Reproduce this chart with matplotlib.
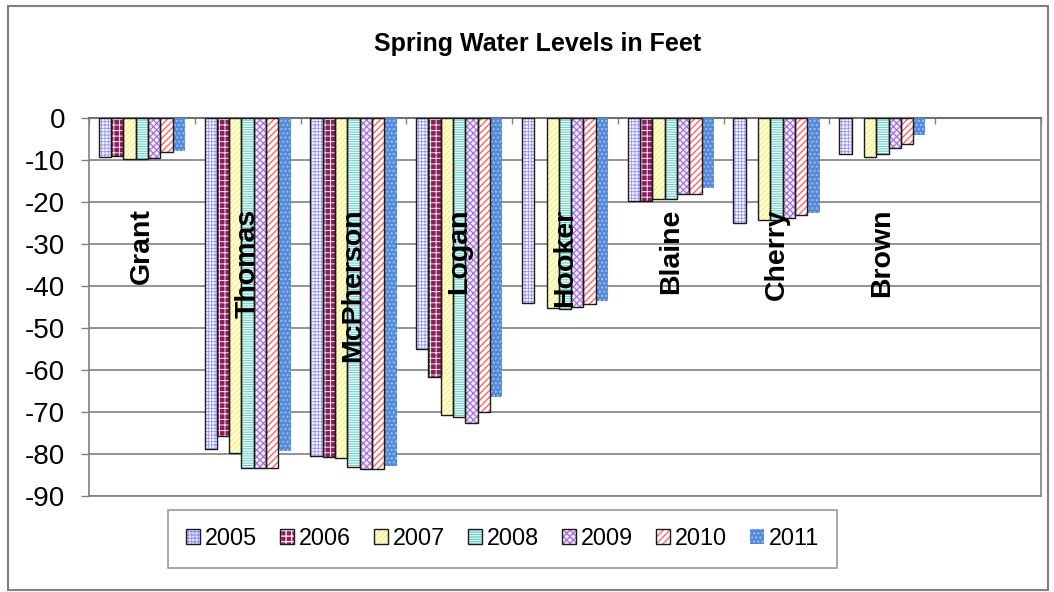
import numpy as np
import matplotlib
matplotlib.use("Agg")
import matplotlib.pyplot as plt
from matplotlib.patches import Patch, Rectangle
from matplotlib.legend_handler import HandlerTuple

plt.rcParams['font.family'] = ['Liberation Sans', 'DejaVu Sans']
plt.rcParams['axes.unicode_minus'] = False

# data (feet); nan = no bar
counties = ["Grant", "Thomas", "McPherson", "Logan", "Hooker", "Blaine", "Cherry", "Brown", ""]
years = ["2005", "2006", "2007", "2008", "2009", "2010", "2011"]
nan = np.nan
y2005 = [-9.3, -78.7, -80.5, -54.9, -44.0, -19.7, -25.0, -8.5, nan]
y2006 = [-9.0, -75.7, -80.7, -61.6, nan, -19.7, nan, nan, nan]
y2007 = [-9.7, -79.7, -80.9, -70.8, -45.2, -19.2, -24.3, -9.2, nan]
y2008 = [-9.7, -83.3, -83.1, -71.1, -45.4, -19.3, -24.4, -8.5, nan]
y2009 = [-9.6, -83.3, -83.5, -72.6, -45.0, -18.1, -23.9, -7.1, nan]
y2010 = [-8.2, -83.3, -83.5, -70.0, -44.4, -18.2, -23.0, -6.2, nan]
y2011 = [-7.8, -79.3, -82.9, -66.5, -43.5, -16.7, -22.6, -4.0, nan]
series = [y2005, y2006, y2007, y2008, y2009, y2010, y2011]

# (face, hatch colour, hatch, hatch lw, outline)
styles = [
    ("white", "#9a9aff", "+++++", 0.7, True),
    ("#8b1f5c", "#f3e6ee", "+++", 0.7, True),
    ("#ffffd0", "#f2ec8c", "//////", 0.8, True),
    ("#f0ffff", "#6fd0c8", "-------", 0.8, True),
    ("#f4e8ff", "#a678d6", "xxxxx", 0.9, True),
    ("white", "#ff6f6f", "/////", 1.1, True),
    ("#5389d8", "#9dbef0", "....", 1.0, False),
]

fig = plt.figure(figsize=(10.54, 5.92), dpi=100)
ax = fig.add_axes([0.0844, 0.1622, 0.9033, 0.6385])

x = np.arange(len(counties))
w = 0.1164
grey = "#808080"

handles = []
for j, (vals, st) in enumerate(zip(series, styles)):
    face, hcol, hatch, hlw, outline = st
    pos = x + (j - 3) * w
    with plt.rc_context({'hatch.linewidth': hlw}):
        bars = ax.bar(pos, vals, w, color=face, edgecolor=hcol, linewidth=0,
                      hatch=hatch, zorder=3)
        for b in bars:
            if hasattr(b, "set_hatch_linewidth"):
                b.set_hatch_linewidth(hlw)
        hp = Patch(facecolor=face, edgecolor=hcol, linewidth=0, hatch=hatch)
        if hasattr(hp, "set_hatch_linewidth"):
            hp.set_hatch_linewidth(hlw)
    if outline:
        ax.bar(pos, vals, w, fill=False, edgecolor="#1a1a1a", linewidth=1.0, zorder=4)
        handles.append((hp, Patch(fill=False, edgecolor="#1a1a1a", linewidth=1.0)))
    else:
        handles.append((hp,))

# county names inside the plot
for i, name in enumerate(counties):
    if name:
        ax.text(i, -21.5, name, rotation=90, ha="center", va="top",
                fontsize=20.5, fontweight="bold", zorder=5)

ax.set_xlim(-0.5, len(counties) - 0.5)
ax.set_ylim(-90, 0)
ax.set_yticks(np.arange(-90, 1, 10))
ax.set_yticklabels([str(v) for v in np.arange(-90, 1, 10)])
ax.tick_params(axis="y", labelsize=20, length=6, width=1, color=grey, pad=11)
ax.grid(axis="y", color=grey, linewidth=1.2, zorder=0)

ax.xaxis.tick_top()
ax.set_xticks(np.arange(-0.5, len(counties), 1.0))
ax.set_xticklabels([])
ax.tick_params(axis="x", direction="in", length=4, width=1, color=grey)
for s in ax.spines.values():
    s.set_color(grey)
    s.set_linewidth(1.2)
ax.spines["top"].set_color("#707070")
ax.spines["top"].set_linewidth(1.5)

leg = fig.legend(handles, years, loc="center", bbox_to_anchor=(502.5 / 1054, 1 - 538.5 / 592),
                 ncol=7, fontsize=16.8, frameon=True, fancybox=False,
                 handler_map={tuple: HandlerTuple(ndivide=1)},
                 handlelength=0.6, handleheight=0.6, handletextpad=0.2,
                 columnspacing=1.0, borderpad=0.75, borderaxespad=0)
leg.get_frame().set_edgecolor(grey)
leg.get_frame().set_linewidth(1.2)

fig.text(538 / 1054, 1 - 51 / 592, "Spring Water Levels in Feet", ha="center",
         va="baseline", fontsize=18, fontweight="bold")

fig.patches.append(Rectangle((8 / 1054, 1 - 590 / 592), 1040 / 1054, 584 / 592,
                             transform=fig.transFigure, fill=False,
                             edgecolor=grey, linewidth=1.5))

fig.savefig("out.png", dpi=100)
